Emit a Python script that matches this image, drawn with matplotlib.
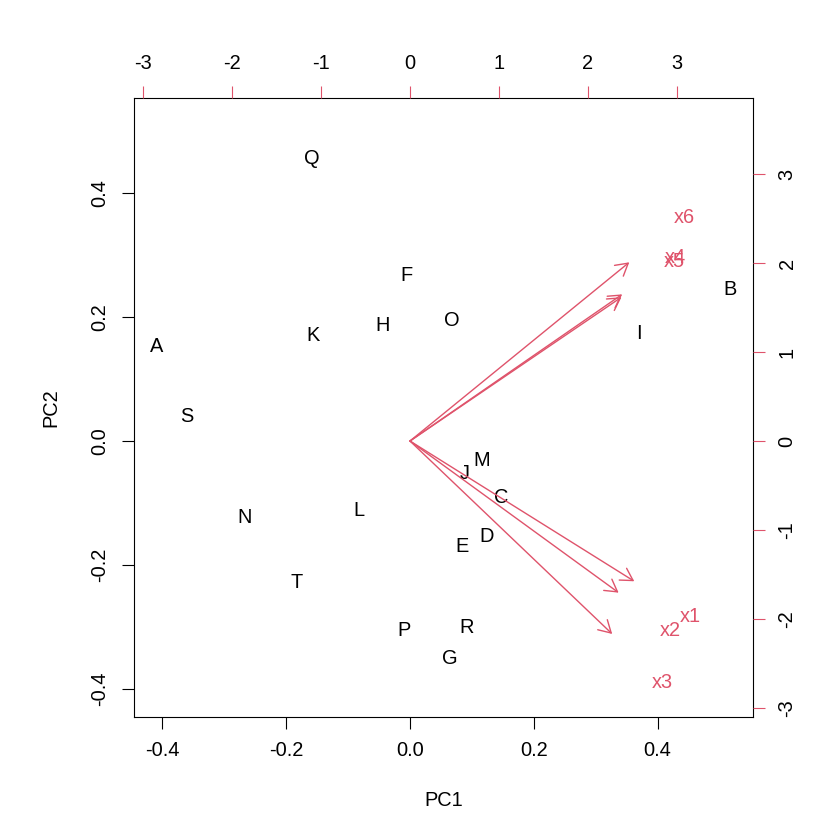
import numpy as np
import matplotlib
matplotlib.use("Agg")
import matplotlib.pyplot as plt
from matplotlib.patches import FancyArrowPatch

plt.rcParams['font.family'] = ['Liberation Sans', 'DejaVu Sans']

# scores (PC1, PC2) of the observations
obs_labels = ['A', 'B', 'C', 'D', 'E', 'F', 'G', 'H', 'I', 'J',
              'K', 'L', 'M', 'N', 'O', 'P', 'Q', 'R', 'S', 'T']
pc1 = [-0.409, 0.517, 0.147, 0.124, 0.084, -0.006, 0.065, -0.045, 0.370, 0.089,
       -0.157, -0.082, 0.116, -0.268, 0.068, -0.010, -0.158, 0.092, -0.360, -0.184]
pc2 = [0.152, 0.244, -0.092, -0.155, -0.171, 0.267, -0.351, 0.187, 0.174, -0.052,
       0.170, -0.113, -0.031, -0.123, 0.195, -0.307, 0.457, -0.302, 0.040, -0.229]

# variable loadings (label positions, arrows drawn at 0.8 of these)
var_labels = ['x1', 'x2', 'x3', 'x4', 'x5', 'x6']
load1 = [3.15, 2.93, 2.84, 2.98, 2.97, 3.08]
load2 = [-1.97, -2.13, -2.71, 2.06, 2.02, 2.51]

red = '#DF536B'
fs = 14.4

fig = plt.figure(figsize=(8.4, 8.4), dpi=100)
ax = fig.add_axes([134/840, 1 - 717/840, (753-134)/840, (717-98)/840])
lim = (-0.446, 0.554)
ax.set_xlim(lim)
ax.set_ylim(lim)
for lab, x, y in zip(obs_labels, pc1, pc2):
    ax.text(x, y, lab, ha='center', va='center', fontsize=fs)
ax.set_xticks([-0.4, -0.2, 0.0, 0.2, 0.4])
ax.set_yticks([-0.4, -0.2, 0.0, 0.2, 0.4])
ax.set_xticklabels(['-0.4', '-0.2', '0.0', '0.2', '0.4'])
ax.set_yticklabels(['-0.4', '-0.2', '0.0', '0.2', '0.4'], rotation=90, va='center')
ax.tick_params(length=8.64, width=0.8, labelsize=fs, pad=9)
ax.set_xlabel('PC1', fontsize=fs, labelpad=22)
ax.set_ylabel('PC2', fontsize=fs, labelpad=22)
for sp in ax.spines.values():
    sp.set_linewidth(0.8)

ax2 = fig.add_axes(ax.get_position(), frameon=False)
lim2 = (-3.101, 3.854)
ax2.set_xlim(lim2)
ax2.set_ylim(lim2)
ax2.xaxis.tick_top()
ax2.yaxis.tick_right()
ax2.set_xticks(range(-3, 4))
ax2.set_yticks(range(-3, 4))
ax2.set_xticklabels([str(v) for v in range(-3, 4)])
ax2.set_yticklabels([str(v) for v in range(-3, 4)], rotation=90, va='center')
ax2.tick_params(length=8.64, width=0.8, color=red, labelsize=fs, pad=9)

for lab, x, y in zip(var_labels, load1, load2):
    arr = FancyArrowPatch((0, 0), (0.8 * x, 0.8 * y),
                          arrowstyle='->,head_length=0.864,head_width=0.5',
                          mutation_scale=10, color=red, lw=1.0,
                          shrinkA=0, shrinkB=0)
    ax2.add_patch(arr)
    ax2.text(x, y, lab, ha='center', va='center', fontsize=fs, color=red)

fig.savefig('out.png', dpi=100)
